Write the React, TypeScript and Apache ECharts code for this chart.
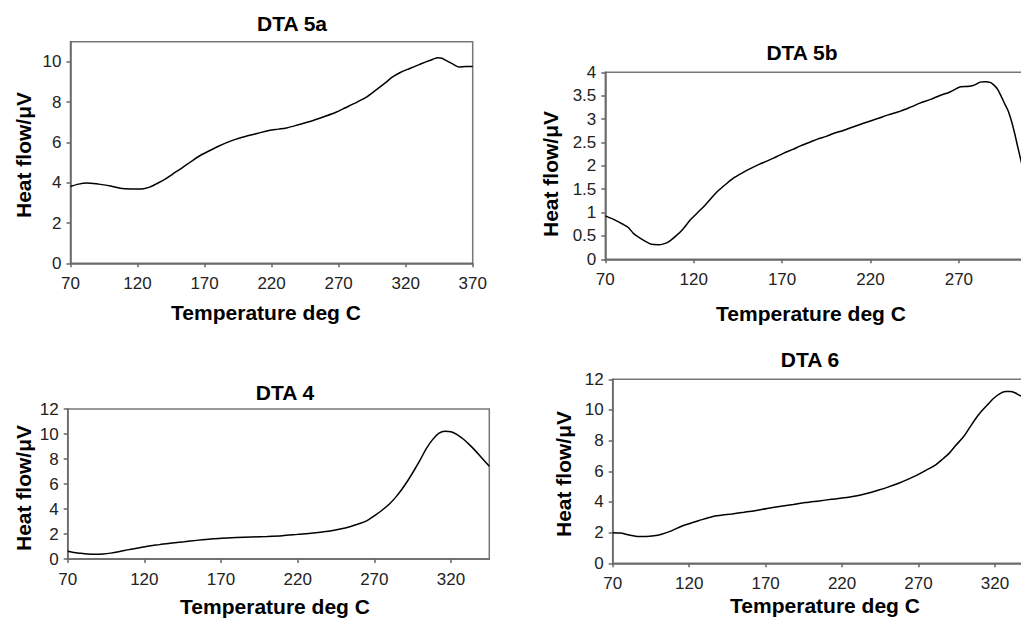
import React, { useEffect, useRef } from "react";
import * as echarts from "echarts";

// DTA 5a
const temp5a = [70, 76, 82, 91, 100, 107, 115, 123, 129, 134, 140, 146, 153, 161, 168, 174, 180, 186, 193, 201, 210, 218, 225, 231, 240, 251, 260, 268, 275, 281, 290, 298, 305, 310, 316, 323, 330, 335, 340, 344, 347, 350, 355, 360, 365, 370];
const flow5a = [3.81, 3.93, 3.99, 3.93, 3.84, 3.72, 3.69, 3.69, 3.78, 3.94, 4.15, 4.42, 4.73, 5.10, 5.40, 5.60, 5.80, 5.98, 6.15, 6.31, 6.46, 6.59, 6.66, 6.72, 6.88, 7.09, 7.30, 7.50, 7.72, 7.91, 8.22, 8.61, 8.97, 9.24, 9.47, 9.67, 9.86, 10.0, 10.12, 10.2, 10.18, 10.07, 9.90, 9.74, 9.77, 9.77];

// DTA 5b
const temp5b = [70, 75, 80, 83, 86, 89, 92, 96, 100, 103, 106, 110, 114, 118, 122, 126, 130, 134, 138, 143, 148, 152, 157, 162, 167, 171, 176, 180, 186, 190, 195, 199, 205, 210, 216, 224, 230, 237, 243, 248, 254, 259, 265, 271, 276, 279, 282, 285, 288, 290, 292, 294, 296, 298, 300, 302, 303, 305.5];
const flow5b = [0.93, 0.85, 0.75, 0.68, 0.55, 0.47, 0.40, 0.32, 0.31, 0.33, 0.38, 0.50, 0.65, 0.84, 0.99, 1.14, 1.31, 1.47, 1.60, 1.75, 1.86, 1.94, 2.03, 2.11, 2.20, 2.27, 2.35, 2.42, 2.51, 2.57, 2.63, 2.69, 2.76, 2.83, 2.91, 3.01, 3.09, 3.17, 3.26, 3.34, 3.42, 3.50, 3.58, 3.69, 3.70, 3.73, 3.79, 3.80, 3.78, 3.72, 3.63, 3.48, 3.32, 3.16, 2.92, 2.62, 2.45, 2.05];

// DTA 4
const temp4 = [70, 74, 78, 83, 88, 93, 98, 104, 110, 116, 122, 130, 138, 146, 154, 162, 170, 180, 190, 200, 210, 220, 230, 240, 247, 254, 260, 265, 270, 275, 280, 284, 288, 292, 296, 300, 304, 308, 312, 316, 320, 324, 328, 332, 336, 340, 345];
const flow4 = [0.62, 0.52, 0.46, 0.40, 0.38, 0.40, 0.47, 0.60, 0.75, 0.88, 1.02, 1.15, 1.28, 1.38, 1.49, 1.58, 1.66, 1.72, 1.76, 1.80, 1.86, 1.97, 2.08, 2.22, 2.38, 2.58, 2.82, 3.05, 3.45, 3.90, 4.42, 4.95, 5.58, 6.30, 7.10, 7.95, 8.85, 9.55, 10.05, 10.23, 10.18, 9.95, 9.6, 9.15, 8.65, 8.1, 7.42];

// DTA 6
const temp6 = [70, 75, 80, 86, 92, 97, 102, 108, 115, 120, 126, 131, 135, 140, 148, 156, 163, 171, 179, 188, 196, 205, 213, 221, 229, 236, 244, 250, 257, 263, 268, 274, 281, 286, 290, 294, 299, 303, 307, 311, 316, 319, 323, 327, 330, 333, 337];
const flow6 = [2.0, 1.97, 1.86, 1.75, 1.74, 1.79, 1.90, 2.1, 2.42, 2.58, 2.78, 2.92, 3.04, 3.12, 3.22, 3.33, 3.43, 3.58, 3.71, 3.84, 3.96, 4.07, 4.17, 4.27, 4.39, 4.55, 4.78, 4.97, 5.22, 5.47, 5.70, 6.02, 6.41, 6.82, 7.17, 7.65, 8.2, 8.78, 9.38, 9.9, 10.43, 10.75, 11.05, 11.2, 11.2, 11.12, 10.9];

const titles = ["DTA 5a", "DTA 5b", "DTA 4", "DTA 6"];
const xName = "Temperature deg C";
const yName = "Heat flow/\u03bcV";

const FONT = "Arial, 'Liberation Sans', Helvetica, sans-serif";

const zip = (a: number[], b: number[]) => a.map((t, i) => [t, b[i]]);

export default function App() {
  const ref = useRef<HTMLDivElement>(null);
  useEffect(() => {
    if (!ref.current) return;
    const chart = echarts.init(ref.current, undefined, { renderer: "svg" });

    const grids = [
      { left: 70.5, top: 41.7, width: 402.2, height: 221.6 },
      { left: 605.3, top: 72.3, width: 442, height: 187 },
      { left: 67.7, top: 409, width: 421.6, height: 150 },
      { left: 612.7, top: 379.3, width: 420.5, height: 184 },
    ];
    const xr = [
      [70, 370],
      [70, 320],
      [70, 345],
      [70, 345],
    ];
    const yr = [
      [0, 11, 2],
      [0, 4, 0.5],
      [0, 12, 2],
      [0, 12, 2],
    ];
    const data = [zip(temp5a, flow5a), zip(temp5b, flow5b), zip(temp4, flow4), zip(temp6, flow6)];

    const axisLine = { show: true, onZero: false, lineStyle: { color: "#666", width: 1.5 } };
    const label = { color: "#222", fontSize: 17, fontFamily: FONT };

    const titlePos = [
      [292, 23],
      [802, 52],
      [285, 392],
      [810, 359],
    ];
    const yNamePos = [
      [23, 155],
      [550, 174],
      [23, 488],
      [563, 474],
    ];
    const xNamePos = [
      [266, 312],
      [811, 313],
      [275, 606],
      [825, 605],
    ];

    const boldText = (text: string, x: number, y: number, rot = 0) => ({
      type: "text",
      x,
      y,
      rotation: rot,
      style: {
        text,
        fill: "#000",
        font: `bold 21px ${FONT}`,
        textAlign: "center",
        textVerticalAlign: "middle",
        align: "center",
        verticalAlign: "middle",
      },
    });

    const graphics: any[] = [];
    for (let i = 0; i < 4; i++) {
      graphics.push(boldText(titles[i], titlePos[i][0], titlePos[i][1]));
      graphics.push(boldText(yName, yNamePos[i][0], yNamePos[i][1], Math.PI / 2));
      graphics.push(boldText(xName, xNamePos[i][0], xNamePos[i][1]));
    }

    chart.setOption({
      animation: false,
      backgroundColor: "#fff",
      grid: grids.map((g) => ({
        ...g,
        show: true,
        borderColor: "#777",
        borderWidth: 1.5,
        backgroundColor: "transparent",
        containLabel: false,
      })),
      xAxis: grids.map((_, i) => ({
        type: "value",
        gridIndex: i,
        min: xr[i][0],
        max: xr[i][1],
        interval: 50,
        axisLine,
        axisTick: { show: true, inside: false, length: 4, lineStyle: { color: "#666", width: 1.5 } },
        axisLabel: { ...label, margin: 12, showMaxLabel: i === 0 },
        splitLine: { show: false },
      })),
      yAxis: grids.map((_, i) => ({
        type: "value",
        gridIndex: i,
        min: yr[i][0],
        max: yr[i][1],
        interval: yr[i][2],
        axisLine,
        axisTick: { show: true, inside: false, length: 4, lineStyle: { color: "#666", width: 1.5 } },
        axisLabel: { ...label, margin: 9, showMaxLabel: i !== 0 },
        splitLine: { show: false },
      })),
      series: data.map((d, i) => ({
        type: "line",
        xAxisIndex: i,
        yAxisIndex: i,
        data: d,
        showSymbol: false,
        smooth: 0.3,
        lineStyle: { color: "#000", width: 1.5 },
      })),
      graphic: graphics,
    });

    return () => chart.dispose();
  }, []);

  return (
    <div
      style={{ position: "fixed", left: 0, top: 0, width: 1021, height: 619, overflow: "hidden", background: "#fff" }}
    >
      <div ref={ref} style={{ width: 1100, height: 619 }} />
    </div>
  );
}
